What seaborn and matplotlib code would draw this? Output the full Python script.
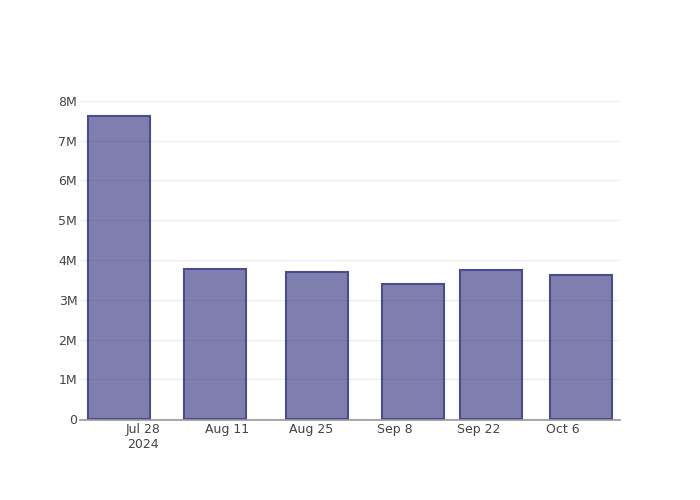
import pandas as pd
import numpy as np
import matplotlib
matplotlib.use("Agg")
import matplotlib.pyplot as plt
import seaborn as sns

dates = pd.to_datetime(["2024-07-24", "2024-08-09", "2024-08-26",
                        "2024-09-11", "2024-09-24", "2024-10-09"])
values = [7.62e6, 3.77e6, 3.70e6, 3.40e6, 3.75e6, 3.62e6]
tick_dates = pd.to_datetime(["2024-07-28", "2024-08-11", "2024-08-25",
                             "2024-09-08", "2024-09-22", "2024-10-06"])
tick_labels = ["Jul 28\n2024", "Aug 11", "Aug 25", "Sep 8", "Sep 22", "Oct 6"]

sns.set_theme(style="white")
plt.rcParams['font.family'] = ['DejaVu Sans']

fig = plt.figure(figsize=(7, 5), dpi=100)
ax = fig.add_axes([80 / 700, 80 / 500, 540 / 700, 320 / 500])

# semi-transparent fill so the grid shows through, like the original
ax.bar(dates, values, width=10.33, facecolor=(0.0, 0.0, 0.38, 0.5),
       edgecolor="#4b4b8f", linewidth=1.5, zorder=2)

ax.set_xlim(pd.Timestamp("2024-07-17 12:00"), pd.Timestamp("2024-10-15 12:00"))
ax.set_ylim(-0.02e6, 8.02e6)
ax.set_xticks(tick_dates)
ax.set_xticklabels(tick_labels)
ax.set_yticks(np.arange(0, 9e6, 1e6))
ax.set_yticklabels(["0"] + [f"{i}M" for i in range(1, 9)])

ax.grid(axis="y", color="#eeeeee", linewidth=1, zorder=0)
ax.tick_params(axis="both", labelsize=9, colors="#444444", length=0)
ax.tick_params(axis="y", pad=2)
ax.tick_params(axis="x", pad=2)
for s in ["top", "right", "left"]:
    ax.spines[s].set_visible(False)
ax.spines["bottom"].set_color("#999999")
ax.spines["bottom"].set_linewidth(1.2)
ax.spines["bottom"].set_zorder(3)

fig.savefig("out.png", dpi=100)
